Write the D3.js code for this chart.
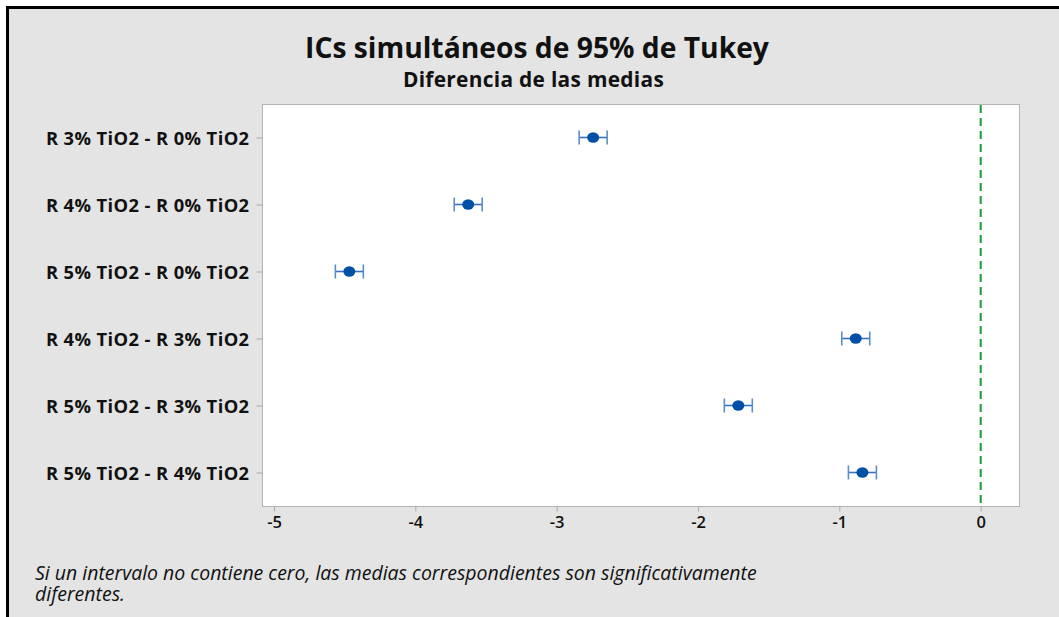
<!DOCTYPE html>
<html>
<head>
<meta charset="utf-8">
<script src="https://cdn.jsdelivr.net/npm/d3@7"></script>
<style>
  html, body { margin: 0; padding: 0; background: #ffffff; }
  svg { display: block; }
  text { font-family: "Open Sans", "Noto Sans", sans-serif; }
</style>
</head>
<body>
<svg id="chart" width="1059" height="617"></svg>
<script>
// ---- data ----
const comparisons = [
  "R 3% TiO2 - R 0% TiO2",
  "R 4% TiO2 - R 0% TiO2",
  "R 5% TiO2 - R 0% TiO2",
  "R 4% TiO2 - R 3% TiO2",
  "R 5% TiO2 - R 3% TiO2",
  "R 5% TiO2 - R 4% TiO2"
];
const meanDiff = [-2.742, -3.626, -4.467, -0.884, -1.715, -0.837];
const lowerCI  = [-2.841, -3.725, -4.566, -0.983, -1.814, -0.936];
const upperCI  = [-2.643, -3.527, -4.368, -0.785, -1.616, -0.738];
const xTicks = [-5, -4, -3, -2, -1, 0];
const xDomain = [-5.085, 0.271];
const refValue = 0;
const titleText = "ICs simultáneos de 95% de Tukey";
const subtitleText = "Diferencia de las medias";
const noteLines = [
  "Si un intervalo no contiene cero, las medias correspondientes son significativamente",
  "diferentes."
];

const rows = comparisons.map((c, i) => ({ label: c, mean: meanDiff[i], lo: lowerCI[i], hi: upperCI[i] }));

const svg = d3.select("#chart");
const W = 1059, H = 617;
const plot = { left: 262, right: 1019, top: 104, bottom: 506 };

// outer panel
svg.append("rect")
  .attr("x", 7.5).attr("y", 7.5)
  .attr("width", W + 20).attr("height", H + 20)
  .attr("fill", "#e4e4e4")
  .attr("stroke", "#000").attr("stroke-width", 3);

function fit(sel, target) {
  const w = sel.node().getComputedTextLength();
  const fs = parseFloat(sel.attr("font-size"));
  const nfs = fs * target / w;
  sel.attr("font-size", nfs.toFixed(2));
  return nfs;
}

// titles
const t1 = svg.append("text")
  .attr("x", 537).attr("y", 58)
  .attr("text-anchor", "middle")
  .attr("font-size", 24).attr("font-weight", "bold").attr("fill", "#111")
  .text(titleText);
fit(t1, 464);
const t2 = svg.append("text")
  .attr("x", 533.5).attr("y", 87)
  .attr("text-anchor", "middle")
  .attr("font-size", 17).attr("font-weight", "bold").attr("fill", "#111")
  .attr("letter-spacing", 0.3)
  .text(subtitleText);
fit(t2, 263);

// scales
const x = d3.scaleLinear().domain(xDomain).range([plot.left, plot.right]);
const y = d3.scalePoint().domain(comparisons).range([plot.top, plot.bottom]).padding(0.5);

// plot area
svg.append("rect")
  .attr("x", plot.left + 0.5).attr("y", plot.top + 0.5)
  .attr("width", plot.right - plot.left).attr("height", plot.bottom - plot.top)
  .attr("fill", "#fff").attr("stroke", "#b4b4b4").attr("stroke-width", 1);

// x axis
const xAxis = svg.append("g")
  .attr("transform", `translate(0,${plot.bottom + 0.5})`)
  .call(d3.axisBottom(x).tickValues(xTicks).tickSize(5).tickPadding(5).tickFormat(d3.format("d")));
xAxis.select(".domain").remove();
xAxis.selectAll(".tick line").attr("stroke", "#a8a8a8");
xAxis.selectAll(".tick text")
  .attr("font-family", "'Open Sans', sans-serif")
  .attr("font-size", 16.5).attr("font-weight", 600).attr("fill", "#111")
  .text(d => d < 0 ? "-" + Math.abs(d) : d);

// y axis
const yAxis = svg.append("g")
  .attr("transform", `translate(${plot.left + 0.5},0)`)
  .call(d3.axisLeft(y).tickSize(6).tickPadding(7));
yAxis.select(".domain").remove();
yAxis.selectAll(".tick line").attr("stroke", "#a8a8a8");
const yLab = yAxis.selectAll(".tick text")
  .attr("font-family", "'Open Sans', sans-serif")
  .attr("font-size", 16).attr("font-weight", "bold").attr("fill", "#111")
  .attr("letter-spacing", 0.4)
  .attr("dy", "0.36em");
const yfs = fit(d3.select(yLab.nodes()[0]), 205);
yLab.attr("font-size", yfs.toFixed(2));

// reference line
svg.append("line")
  .attr("x1", x(refValue)).attr("x2", x(refValue))
  .attr("y1", plot.top + 1).attr("y2", plot.bottom)
  .attr("stroke", "#1a9a3c").attr("stroke-width", 2)
  .attr("stroke-dasharray", "8,5");

// intervals
const g = svg.append("g");
const item = g.selectAll("g.item").data(rows).enter().append("g").attr("class", "item");
item.append("line")
  .attr("x1", d => x(d.lo)).attr("x2", d => x(d.hi))
  .attr("y1", d => y(d.label)).attr("y2", d => y(d.label))
  .attr("stroke", "#3a72bb").attr("stroke-width", 1.6);
item.append("line")
  .attr("x1", d => x(d.lo)).attr("x2", d => x(d.lo))
  .attr("y1", d => y(d.label) - 7).attr("y2", d => y(d.label) + 7)
  .attr("stroke", "#5b8dcc").attr("stroke-width", 1.6);
item.append("line")
  .attr("x1", d => x(d.hi)).attr("x2", d => x(d.hi))
  .attr("y1", d => y(d.label) - 7).attr("y2", d => y(d.label) + 7)
  .attr("stroke", "#5b8dcc").attr("stroke-width", 1.6);
item.append("ellipse")
  .attr("cx", d => x(d.mean)).attr("cy", d => y(d.label))
  .attr("rx", 6).attr("ry", 5.2)
  .attr("fill", "#0050a6");

// footnote
let noteFs = 18;
noteLines.forEach((line, i) => {
  const t = svg.append("text")
    .attr("x", 35).attr("y", 580 + i * 21)
    .attr("font-size", noteFs).attr("font-style", "italic").attr("fill", "#111")
    .text(line);
  if (i === 0) noteFs = fit(t, 722);
});
</script>
</body>
</html>
